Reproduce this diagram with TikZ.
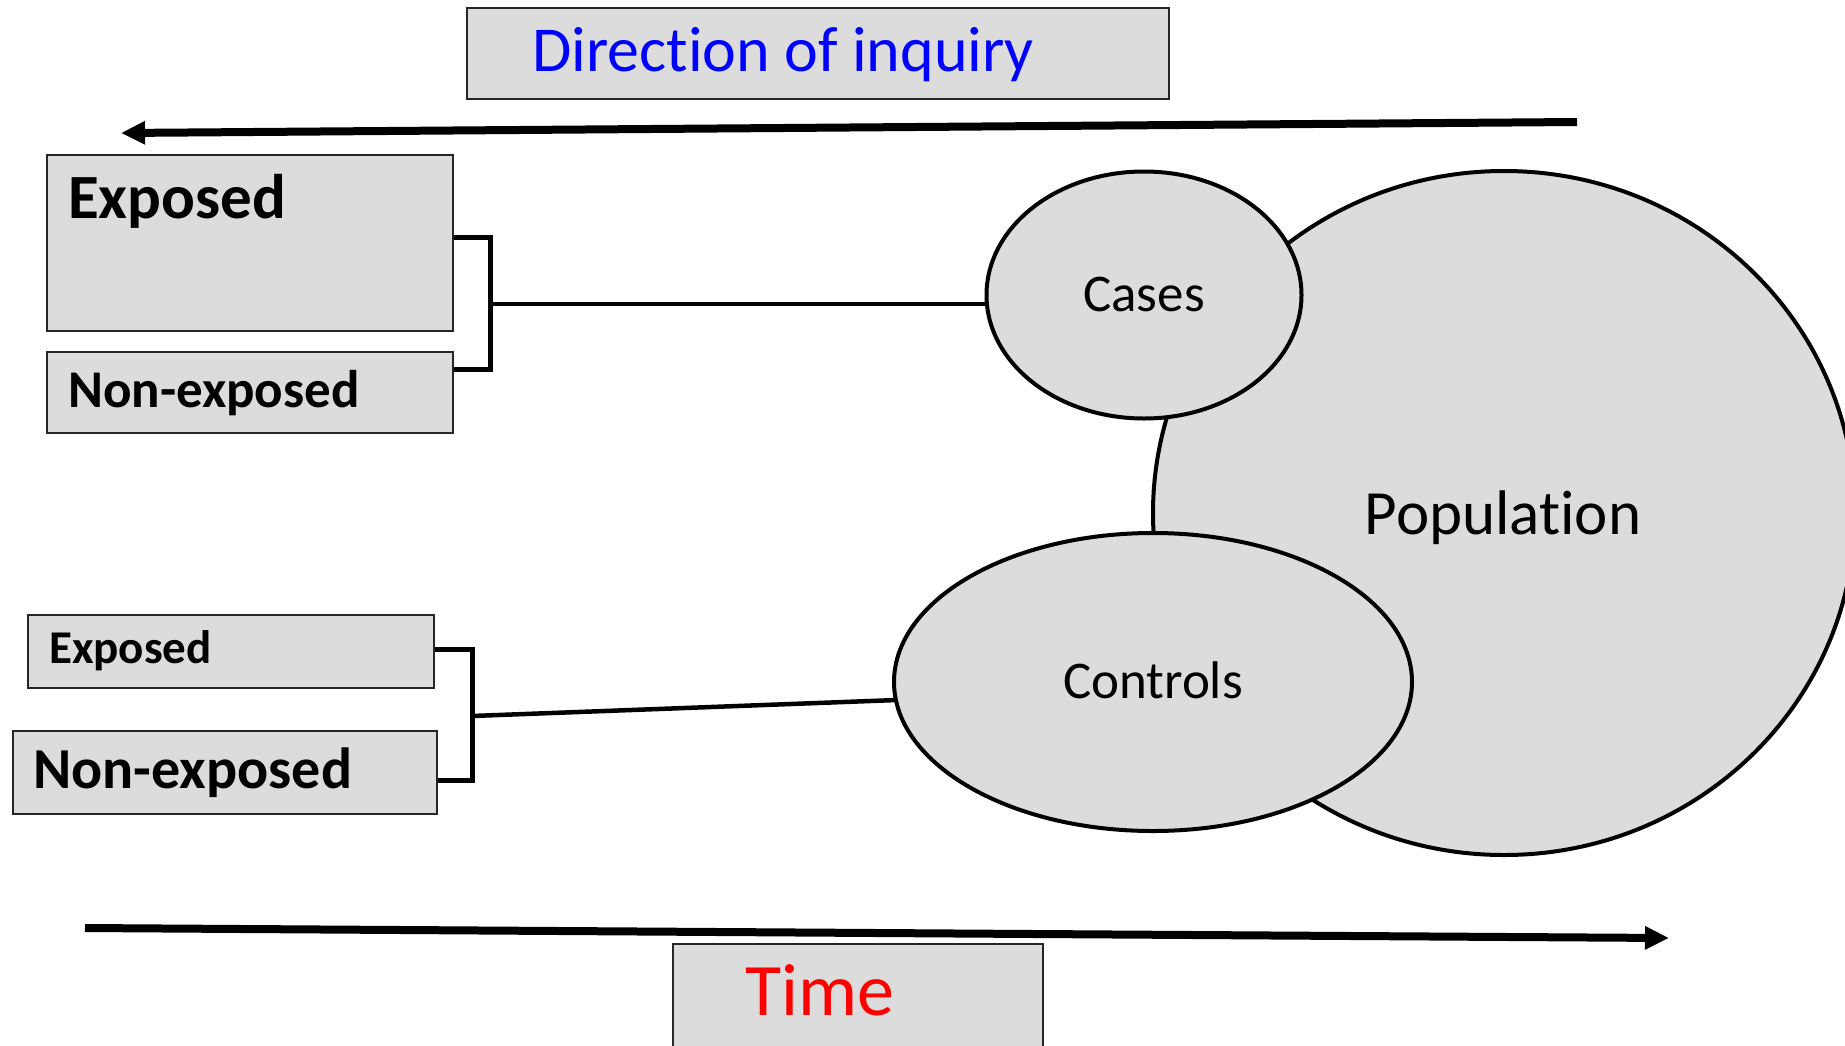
\documentclass[tikz,border=0pt]{standalone}
\usepackage{fontspec}
\setmainfont[Ligatures=NoCommon]{Carlito}
\usetikzlibrary{shapes.geometric,arrows.meta}
\definecolor{boxgray}{HTML}{DCDCDC}
\definecolor{inqblue}{RGB}{0,0,255}
\definecolor{timered}{RGB}{255,0,0}
\tikzset{
  panel/.style={draw=black!85, line width=2pt, fill=boxgray, inner sep=0pt},
  blob/.style={ellipse, draw=black, line width=4pt, fill=boxgray, inner sep=0pt},
  bracket/.style={draw=black, line width=5pt},
  link/.style={draw=black, line width=4.5pt},
  timeline/.style={draw=black, line width=8pt, -{Triangle[length=24pt,width=22pt]}},
  lbl/.style={inner sep=0pt, anchor=base west},
}
\newcommand{\fs}[1]{\fontsize{#1}{#1}\selectfont}
\begin{document}
\begin{tikzpicture}[x=1pt,y=-1pt]
\useasboundingbox (0,0) rectangle (1845,1045);

% title panel and inquiry arrow
\node[panel, minimum width=702pt, minimum height=91pt] (inqbox) at (818,53.5) {};
\node[lbl, text=inqblue] (inqtxt) at (532,71) {\fs{64}Direction of inquiry};
\coordinate (inqstart) at (1577,122);
\coordinate (inqend) at (121,133);
\draw[timeline] (inqstart) -- (inqend);

% population and the two samples
\node[blob, minimum width=702pt, minimum height=684pt] (pop) at (1504,513) {};
\node[inner sep=0pt] (poptxt) at (1503,518) {\fs{63}Population};
\node[blob, minimum width=315pt, minimum height=247pt] (cases) at (1144,295) {};
\node[inner sep=0pt] (casestxt) at (1144,294) {\fs{53}Cases};
\node[blob, minimum width=518pt, minimum height=298pt] (controls) at (1153,682) {};
\node[inner sep=0pt] (controlstxt) at (1153,680) {\fs{53}Controls};

% exposure groups among cases
\node[panel, minimum width=406pt, minimum height=176pt] (expA) at (250,243) {};
\node[lbl] (expAtxt) at (68,218) {\fs{63}\bfseries Exposed};
\node[panel, minimum width=406pt, minimum height=81pt] (nonA) at (250,392.5) {};
\node[lbl] (nonAtxt) at (68,407) {\fs{53}\bfseries Non-exposed};
\coordinate (brA) at (490,304);
\draw[bracket] (expA.east |- 0,237) -- (490,237) -- (490,369) -- (nonA.east |- 0,369);
\draw[link] (brA) -- (brA -| cases.west);

% exposure groups among controls
\node[panel, minimum width=406pt, minimum height=73pt] (expB) at (231,651.5) {};
\node[lbl] (expBtxt) at (49,663) {\fs{47}\bfseries Exposed};
\node[panel, minimum width=424pt, minimum height=83pt] (nonB) at (225,772.5) {};
\node[lbl] (nonBtxt) at (33,788) {\fs{58}\bfseries Non-exposed};
\coordinate (brB) at (472,716);
\draw[bracket] (expB.east |- 0,649) -- (472,649) -- (472,780) -- (nonB.east |- 0,780);
\draw[link] (brB) -- (controls.184);

% time arrow and panel
\coordinate (timestart) at (85,928);
\coordinate (timeend) at (1669,938);
\draw[timeline] (timestart) -- (timeend);
\node[panel, minimum width=370pt, minimum height=120pt] (timebox) at (858,1004) {};
\node[lbl, text=timered] (timetxt) at (745,1015) {\fs{74}Time};
\end{tikzpicture}
\end{document}
